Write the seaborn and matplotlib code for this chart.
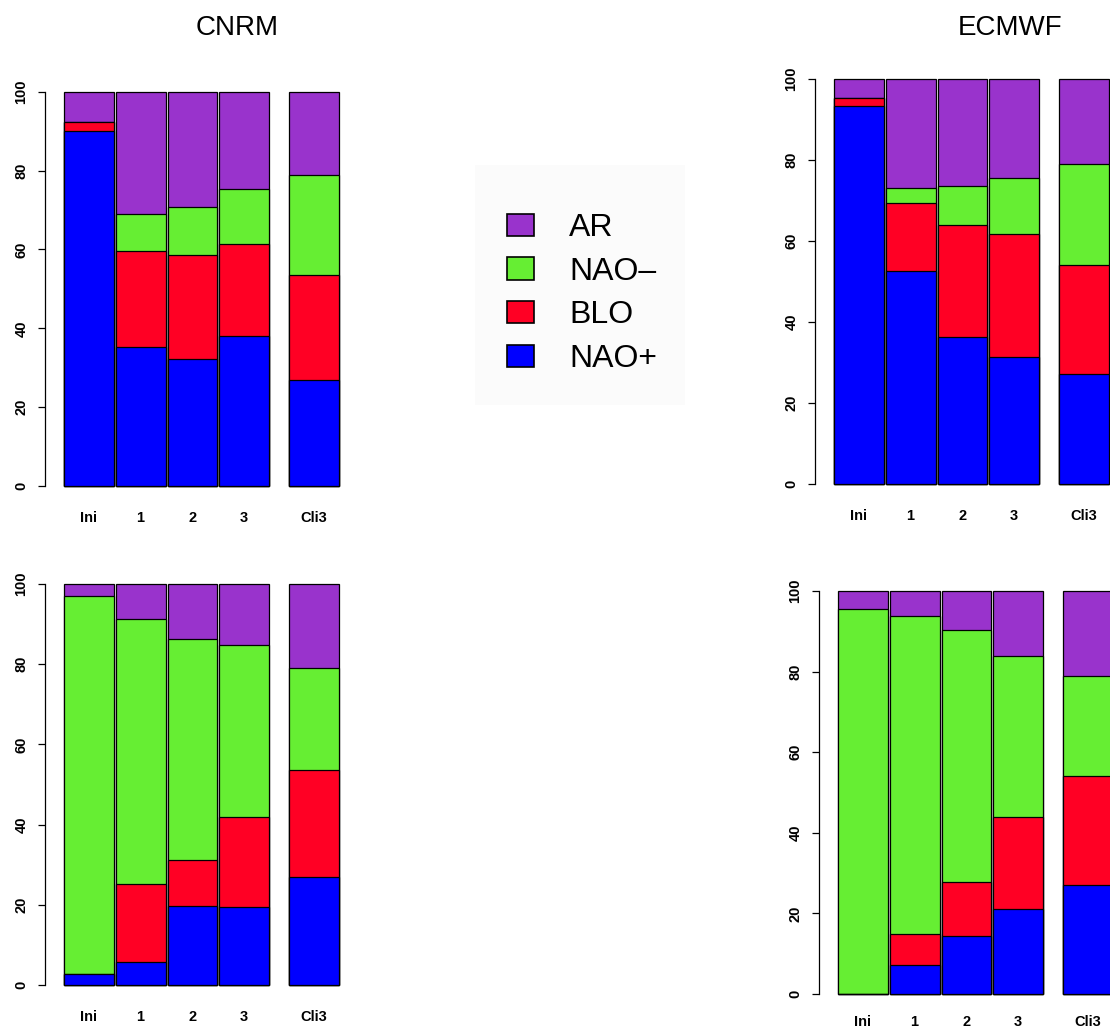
import numpy as np
import matplotlib
matplotlib.use("Agg")
import matplotlib.pyplot as plt
from matplotlib.patches import Patch, Rectangle
import seaborn as sns

# ================================================================
# DATA (percent of days in each weather regime)
# ================================================================
CATEGORIES = ["Ini", "1", "2", "3", "Cli3"]
REGIMES = ["AR", "NAO–", "BLO", "NAO+"]   # legend order, top to bottom

# CNRM, top panel
CNRM_TOP_NAO_PLUS = [90.1, 35.3, 32.3, 38.0, 26.9]
CNRM_TOP_BLO = [2.1, 24.3, 26.2, 23.3, 26.5]
CNRM_TOP_NAO_MINUS = [0.0, 9.4, 12.3, 14.1, 25.6]
CNRM_TOP_AR = [7.8, 31.0, 29.2, 24.6, 21.0]

# ECMWF, top panel
ECMWF_TOP_NAO_PLUS = [93.4, 52.5, 36.2, 31.4, 27.2]
ECMWF_TOP_BLO = [1.9, 16.9, 27.7, 30.4, 26.8]
ECMWF_TOP_NAO_MINUS = [0.0, 3.7, 9.8, 13.8, 24.9]
ECMWF_TOP_AR = [4.7, 26.9, 26.3, 24.4, 21.1]

# CNRM, bottom panel
CNRM_BOT_NAO_PLUS = [2.7, 5.7, 19.6, 19.5, 26.9]
CNRM_BOT_BLO = [0.0, 19.6, 11.6, 22.5, 26.7]
CNRM_BOT_NAO_MINUS = [94.4, 66.0, 55.0, 42.8, 25.5]
CNRM_BOT_AR = [2.9, 8.7, 13.8, 15.2, 20.9]

# ECMWF, bottom panel
ECMWF_BOT_NAO_PLUS = [0.0, 7.1, 14.3, 21.1, 27.1]
ECMWF_BOT_BLO = [0.0, 7.7, 13.4, 22.7, 26.9]
ECMWF_BOT_NAO_MINUS = [95.6, 79.1, 62.6, 40.1, 24.9]
ECMWF_BOT_AR = [4.4, 6.1, 9.7, 16.1, 21.1]

# ================================================================
# STYLE / LAYOUT
# ================================================================
COL_AR = "#9933cc"
COL_NAO_MINUS = "#66ee33"
COL_BLO = "#ff0024"
COL_NAO_PLUS = "#0000ff"

BAR_SPACE = [0, 0.04, 0.04, 0.04, 0.4]      # R-style space before each bar
POS = np.cumsum(np.array(BAR_SPACE) + 1.0) - 1.0

W, H = 1110, 1031
AX_W = 300                                   # axes width in pixels
XLIM = (-0.88, -0.88 + AX_W / 49.8)
YPAD = 0.8

sns.set_theme(style="white")
plt.rcParams["font.family"] = ["Liberation Sans", "DejaVu Sans"]
plt.rcParams["text.color"] = "black"

fig = plt.figure(figsize=(W / 100, H / 100), dpi=100)
fig.patch.set_facecolor("white")


def stacked_panel(left_px, y100, y0, nao_plus, blo, nao_minus, ar, xpad=16):
    per = (y0 - y100) / 100.0
    top = y100 - YPAD * per
    bottom = y0 + YPAD * per
    ax = fig.add_axes([left_px / W, 1 - bottom / H, AX_W / W, (bottom - top) / H])

    c1 = np.array(nao_plus)
    c2 = c1 + np.array(blo)
    c3 = c2 + np.array(nao_minus)
    c4 = c3 + np.array(ar)
    # draw tallest stack first, then cover it with the lower parts
    for heights, color in [(c4, COL_AR), (c3, COL_NAO_MINUS), (c2, COL_BLO), (c1, COL_NAO_PLUS)]:
        sns.barplot(x=POS, y=heights, native_scale=True, width=1 / 1.04,
                    color=color, saturation=1, edgecolor="black", linewidth=0.9,
                    errorbar=None, ax=ax)

    ax.set_xlim(*XLIM)
    ax.set_ylim(-YPAD, 100 + YPAD)
    ax.set_facecolor("none")
    for side in ["top", "right", "bottom"]:
        ax.spines[side].set_visible(False)
    ax.spines["left"].set_bounds(0, 100)
    ax.spines["left"].set_color("black")
    ax.spines["left"].set_linewidth(0.9)

    ax.set_yticks([0, 20, 40, 60, 80, 100])
    ax.set_yticklabels(["0", "20", "40", "60", "80", "100"], rotation=90,
                       va="center", fontweight="bold", fontsize=10.5)
    ax.tick_params(axis="y", length=5, width=0.9, pad=7, colors="black", left=True)
    ax.set_xticks(POS)
    ax.set_xticklabels(CATEGORIES, fontweight="bold", fontsize=10.5)
    ax.tick_params(axis="x", length=0, pad=xpad, colors="black")
    ax.set_xlabel("")
    ax.set_ylabel("")
    return ax


stacked_panel(45, 91.7, 486, CNRM_TOP_NAO_PLUS, CNRM_TOP_BLO, CNRM_TOP_NAO_MINUS, CNRM_TOP_AR)
stacked_panel(815, 79, 484, ECMWF_TOP_NAO_PLUS, ECMWF_TOP_BLO, ECMWF_TOP_NAO_MINUS, ECMWF_TOP_AR)
stacked_panel(45, 584, 985, CNRM_BOT_NAO_PLUS, CNRM_BOT_BLO, CNRM_BOT_NAO_MINUS, CNRM_BOT_AR)
stacked_panel(819, 591, 994, ECMWF_BOT_NAO_PLUS, ECMWF_BOT_BLO, ECMWF_BOT_NAO_MINUS, ECMWF_BOT_AR,
              xpad=13)

# titles
fig.text(237 / W, 1 - 28 / H, "CNRM", ha="center", va="center", fontsize=20, color="black")
fig.text(1010 / W, 1 - 28 / H, "ECMWF", ha="center", va="center", fontsize=20, color="black")

# legend (sits on a faint pasted-in box)
fig.patches.append(Rectangle((475 / W, 1 - 405 / H), 210 / W, 240 / H,
                             transform=fig.transFigure, facecolor="#fbfbfb",
                             edgecolor="none", zorder=0))
handles = [Patch(facecolor=c, edgecolor="black", linewidth=1.2)
           for c in [COL_AR, COL_NAO_MINUS, COL_BLO, COL_NAO_PLUS]]
leg = fig.legend(handles, REGIMES, loc="upper left", bbox_to_anchor=(507 / W, 1 - 213 / H),
                 frameon=False, fontsize=23, handlelength=0.85, handleheight=0.7,
                 handletextpad=1.1, labelspacing=0.43, borderpad=0, borderaxespad=0)
for t in leg.get_texts():
    t.set_color("black")

fig.savefig("out.png", dpi=100, facecolor="white")
